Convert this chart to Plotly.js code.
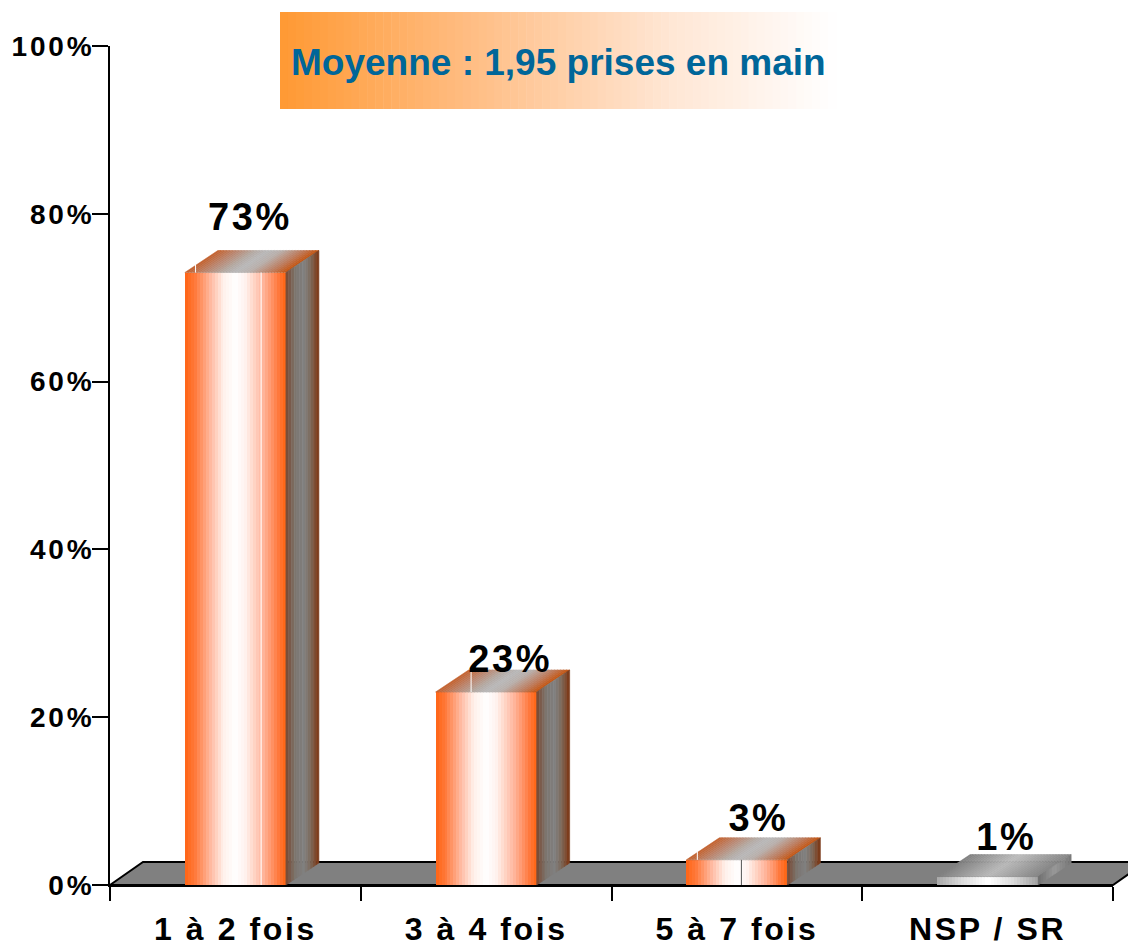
<!DOCTYPE html>
<html>
<head>
<meta charset="utf-8">
<script src="https://cdn.plot.ly/plotly-3.0.1.min.js"></script>
<style>
html,body{margin:0;padding:0;background:#fff;overflow:hidden}
#chart{width:1128px;height:943px}
.xtick text{letter-spacing:2.6px}
.ytick text{letter-spacing:2.8px}
.textpoint text{letter-spacing:2.6px}
</style>
</head>
<body>
<div id="chart"></div>
<script>
const categories = ['1 à 2 fois', '3 à 4 fois', '5 à 7 fois', 'NSP / SR'];
const values = [73, 23, 3, 1];
const valueLabels = ['73%', '23%', '3%', '1%'];
const labelX = [0.558, 1.596, 2.586, 3.575];
const labelY = [79.2, 26.5, 7.6, 5.3];
const yTicks = [0, 20, 40, 60, 80, 100];
const noteText = 'Moyenne : 1,95 prises en main';

const W = 1128, H = 943, L = 110, R = 15, T = 46, B = 58;
const plotW = W - L - R, plotH = H - T - B;
const pxX = p => p / (plotW / 4), pxY = p => p / (plotH / 100);
const barW = 0.403, DX = pxX(33), DY = pxY(22), N = 34, NT = 34, NS = 12;

const hex = c => [parseInt(c.slice(1,3),16), parseInt(c.slice(3,5),16), parseInt(c.slice(5,7),16)];
function ramp(stops, t) {
  for (let i = 1; i < stops.length; i++) {
    if (t <= stops[i][0]) {
      const [a, ca] = stops[i-1], [b, cb] = stops[i];
      const u = (t - a) / (b - a), A = hex(ca), Z = hex(cb);
      return 'rgb(' + A.map((v, k) => Math.round(v + (Z[k] - v) * u)).join(',') + ')';
    }
  }
  return stops[stops.length-1][1];
}
const frontOrange = [[0,'#ff6414'],[0.1,'#ff7a3c'],[0.25,'#ffb9a0'],[0.38,'#fff0ea'],[0.5,'#ffffff'],[0.6,'#fff2ee'],[0.78,'#ffb49a'],[0.92,'#ff7a40'],[1,'#ff6410']];
const topOrange   = [[0,'#c4602c'],[0.2,'#ba8670'],[0.38,'#b4aaa4'],[0.5,'#b8b8b8'],[0.64,'#b8aeaa'],[0.85,'#bc7a5c'],[1,'#c4540f']];
const sideOrange  = [[0,'#7a4830'],[0.3,'#7c7670'],[0.55,'#808080'],[0.75,'#7c6a5c'],[1,'#7c3410']];
const frontGrey = [[0,'#a8a8a8'],[0.25,'#dcdcdc'],[0.5,'#ffffff'],[0.75,'#dcdcdc'],[1,'#a0a0a0']];
const topGrey   = [[0,'#808080'],[0.5,'#bcbcbc'],[1,'#868686']];
const sideGrey  = [[0,'#6e6e6e'],[0.5,'#9a9a9a'],[1,'#777777']];
const palette = i => i === 3 ? [frontGrey, topGrey, sideGrey] : [frontOrange, topOrange, sideOrange];

const poly = (xs, ys, color) => ({
  type:'scatter', mode:'lines', x:xs, y:ys, fill:'toself', fillcolor:color,
  line:{color:color, width:0.6}, hoverinfo:'skip', showlegend:false, cliponaxis:false
});
const seam = (xs, ys, color) => ({
  type:'scatter', mode:'lines', x:xs, y:ys, line:{color:color, width:1}, hoverinfo:'skip', showlegend:false, cliponaxis:false
});

const traces = [];

categories.forEach((c, i) => {
  const [pf, pt, ps] = palette(i);
  const cx = i + 0.5, x0 = cx - barW/2, v = values[i];
  // front strips
  const sx = [], sy = [], sc = [], sw = [];
  for (let k = 0; k < N; k++) {
    sx.push(x0 + barW * (k + 0.5) / N); sy.push(v); sw.push(barW / N);
    sc.push(ramp(pf, (k + 0.5) / N));
  }
  traces.push({type:'bar', x:sx, y:sy, width:sw, marker:{color:sc, line:{width:0}}, hoverinfo:'skip', showlegend:false});
  // top face
  for (let k = 0; k < NT; k++) {
    const a = x0 + barW * k / NT, b = x0 + barW * (k + 1) / NT;
    traces.push(poly([a, b, b + DX, a + DX, a], [v, v, v + DY, v + DY, v], ramp(pt, (k + 0.5) / NT)));
  }
  // side face
  const xr = x0 + barW;
  for (let k = 0; k < NS; k++) {
    const a = DX * k / NS, b = DX * (k + 1) / NS, ya = DY * k / NS, yb = DY * (k + 1) / NS;
    traces.push(poly([xr + a, xr + b, xr + b, xr + a, xr + a],
                     [ya, yb, v + yb, v + ya, ya], ramp(ps, (k + 0.5) / NS)));
  }
});

// thin seams left in the source drawing's gradient fills
const barLeft = i => i + 0.5 - barW / 2;
traces.push(seam([barLeft(0) + barW * 0.755, barLeft(0) + barW * 0.755], [0, values[0]], '#ffffff'));
traces.push(seam([barLeft(0) + pxX(10.7), barLeft(0) + pxX(10.7)], [values[0], values[0] + pxY(8)], '#ffffff'));
traces.push(seam([barLeft(1) + pxX(35.5), barLeft(1) + pxX(35.5)], [values[1], values[1] + DY], '#ffffff'));
traces.push(seam([barLeft(2) + pxX(11), barLeft(2) + pxX(11)], [values[2], values[2] + pxY(8)], '#ffffff'));
traces.push(seam([barLeft(2) + barW * 0.545, barLeft(2) + barW * 0.545], [0, values[2]], '#555555'));

// value labels
traces.push({
  type:'scatter', mode:'text', x:labelX, y:labelY, text:valueLabels.map(s => '<b>' + s + '</b>'), textposition:'middle center',
  textfont:{family:'"Liberation Sans", Arial, sans-serif', size:38, color:'#000'},
  hoverinfo:'skip', showlegend:false, cliponaxis:false
});

const shapes = [];
// floor of the 3D chart, underneath the bars
const fx = pxX(33), fy = pxY(23);
const fp = (x, y) => (x / 4) + ' ' + (y / 100);
shapes.push({
  type:'path', xref:'paper', yref:'paper', layer:'below',
  path:'M ' + fp(0,0) + ' L ' + fp(fx,fy) + ' L ' + fp(4 + fx,fy) + ' L ' + fp(4,0) + ' Z',
  fillcolor:'#808080', line:{color:'#000', width:2}
});
// note box with its fading background
const boxL = 280, boxR = 836, boxT = 12, boxB = 109, steps = 70;
for (let k = 0; k < steps; k++) {
  const a = boxL + (boxR - boxL) * k / steps, b = boxL + (boxR - boxL) * (k + 1) / steps + 0.5;
  shapes.push({
    type:'rect', xref:'paper', yref:'paper', layer:'below',
    x0:(a - L) / plotW, x1:(b - L) / plotW,
    y0:(H - B - boxB) / plotH, y1:(H - B - boxT) / plotH,
    fillcolor:ramp([[0,'#ff9933'],[0.35,'#ffbe85'],[0.7,'#ffe6d4'],[1,'#ffffff']], (k + 0.5) / steps),
    line:{width:0}
  });
}

const tickFont = {family:'"Liberation Sans", Arial, sans-serif', color:'#000'};
const layout = {
  width:W, height:H, autosize:false,
  margin:{l:L, r:R, t:T, b:B, pad:0},
  paper_bgcolor:'#fff', plot_bgcolor:'rgba(0,0,0,0)',
  showlegend:false, barmode:'overlay', bargap:0,
  font:{family:'"Liberation Sans", Arial, sans-serif'},
  xaxis:{
    range:[0,4], type:'linear', fixedrange:true, showgrid:false, zeroline:false,
    showline:true, linecolor:'#000', linewidth:2, layer:'above traces',
    tickmode:'array', tickvals:[0.5,1.5,2.5,3.5], ticktext:categories.map(s => '<b>' + s + '</b>'),
    ticks:'', ticklabelstandoff:15,
    tickfont:Object.assign({size:32}, tickFont),
    minor:{tickmode:'array', tickvals:[0,1,2,3,4], ticks:'outside', ticklen:14, tickwidth:2, tickcolor:'#000', showgrid:false}
  },
  yaxis:{
    range:[0,100], fixedrange:true, showgrid:false, zeroline:false,
    showline:true, linecolor:'#000', linewidth:2, layer:'above traces',
    tickmode:'array', tickvals:yTicks, ticktext:yTicks.map(v => '<b>' + v + '%</b>'),
    ticks:'outside', ticklen:16, tickwidth:2, tickcolor:'#000',
    ticklabelstandoff:-8,
    tickfont:Object.assign({size:28}, tickFont)
  },
  shapes:shapes,
  annotations:[{
    xref:'paper', yref:'paper', xanchor:'left', yanchor:'middle', showarrow:false,
    x:(289 - L) / plotW, y:(H - B - 63) / plotH,
    text:'<b>' + noteText + '</b>',
    font:{family:'"Liberation Sans", Arial, sans-serif', size:37, color:'#006699'}
  }]
};
Plotly.newPlot('chart', traces, layout, {displayModeBar:false, staticPlot:true});
</script>
</body>
</html>
